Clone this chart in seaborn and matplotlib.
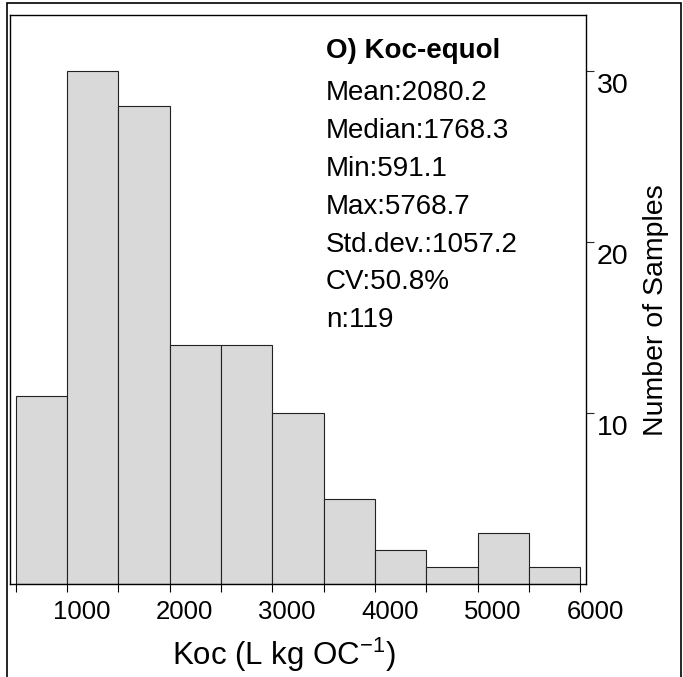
import matplotlib
matplotlib.use("Agg")
import matplotlib.pyplot as plt
import numpy as np
import pandas as pd
import seaborn as sns
from matplotlib.patches import Rectangle
from matplotlib.transforms import ScaledTranslation

# ---- data ----
bin_edges = [500, 1000, 1500, 2000, 2500, 3000, 3500, 4000, 4500, 5000, 5500, 6000]
counts = [11, 30, 28, 14, 14, 10, 5, 2, 1, 3, 1]
x_major_ticks = [1000, 2000, 3000, 4000, 5000, 6000]
x_minor_ticks = [500, 1500, 2500, 3500, 4500, 5500]
y_ticks = [10, 20, 30]
title = "O) Koc-equol"
stats_lines = ["Mean:2080.2", "Median:1768.3", "Min:591.1", "Max:5768.7",
               "Std.dev.:1057.2", "CV:50.8%", "n:119"]
xlabel = "Koc (L kg OC$^{-1}$)"
ylabel = "Number of Samples"

sns.set_style("white")
plt.rcParams["font.family"] = ["Liberation Sans", "DejaVu Sans"]
plt.rcParams["mathtext.default"] = "regular"

centers = [(a + b) / 2 for a, b in zip(bin_edges[:-1], bin_edges[1:])]
df = pd.DataFrame({"koc": centers, "count": counts})

W, H = 683, 677
fig = plt.figure(figsize=(W / 100, H / 100), dpi=100)
ax = fig.add_axes([10 / W, 1 - 584 / H, 576 / W, 569 / H])

sns.histplot(data=df, x="koc", weights="count", bins=bin_edges,
             color="#d9d9d9", edgecolor="#222222", linewidth=0.8, alpha=1, ax=ax)

ax.set_xlim(445, 6057)
ax.set_ylim(0, 33.3)

for s in ax.spines.values():
    s.set_visible(True)
    s.set_color("black")
    s.set_linewidth(1.0)

ax.set_xticks(x_major_ticks)
ax.set_xticklabels([str(t) for t in x_major_ticks])
ax.set_xticks(x_minor_ticks, minor=True)
ax.tick_params(axis="x", which="both", direction="out", length=5.5, width=0.8,
               bottom=True, color="black")
ax.tick_params(axis="x", which="major", labelsize=18.5, pad=6, labelcolor="black")

ax.yaxis.tick_right()
ax.yaxis.set_label_position("right")
ax.set_yticks(y_ticks)
ax.set_yticklabels([str(t) for t in y_ticks])
ax.tick_params(axis="y", which="major", direction="out", length=5.5, width=0.8,
               right=True, left=False, labelsize=20.5, pad=2, labelcolor="black")

dx = ScaledTranslation(15 / 100, 0, fig.dpi_scale_trans)
for lab in ax.get_xticklabels():
    lab.set_transform(lab.get_transform() + dx)
dy = ScaledTranslation(0, -12 / 100, fig.dpi_scale_trans)
for lab in ax.get_yticklabels():
    lab.set_transform(lab.get_transform() + dy)

ax.set_xlabel(xlabel, fontsize=22.5, color="black")
ax.xaxis.set_label_coords((284 - 10) / 576, (584 - 636) / 569)
ax.set_ylabel(ylabel, fontsize=20.5, color="black")
ax.yaxis.set_label_coords((643 - 10) / 576, 0.5 - (310 - 299.5) / 569)

# stats text block
x0 = (326 - 10) / 576
y0 = (584 - 62) / 569
ax.annotate(title, xy=(x0, y0), xycoords="axes fraction",
            xytext=(0, 4), textcoords="offset pixels", fontsize=20,
            fontweight="bold", ha="left", va="baseline", color="black")
for i, line in enumerate(stats_lines):
    ax.annotate(line, xy=(x0, y0), xycoords="axes fraction",
                xytext=(0, -37.9 * (i + 1)), textcoords="offset pixels",
                fontsize=20, ha="left", va="baseline", color="black")

# outer frame
fig.patches.append(Rectangle((7 / W, -0.05), (681 - 7) / W, 1 - 3 / H + 0.05,
                             transform=fig.transFigure, fill=False,
                             edgecolor="black", linewidth=1.2))

fig.savefig("out.png", dpi=100)
